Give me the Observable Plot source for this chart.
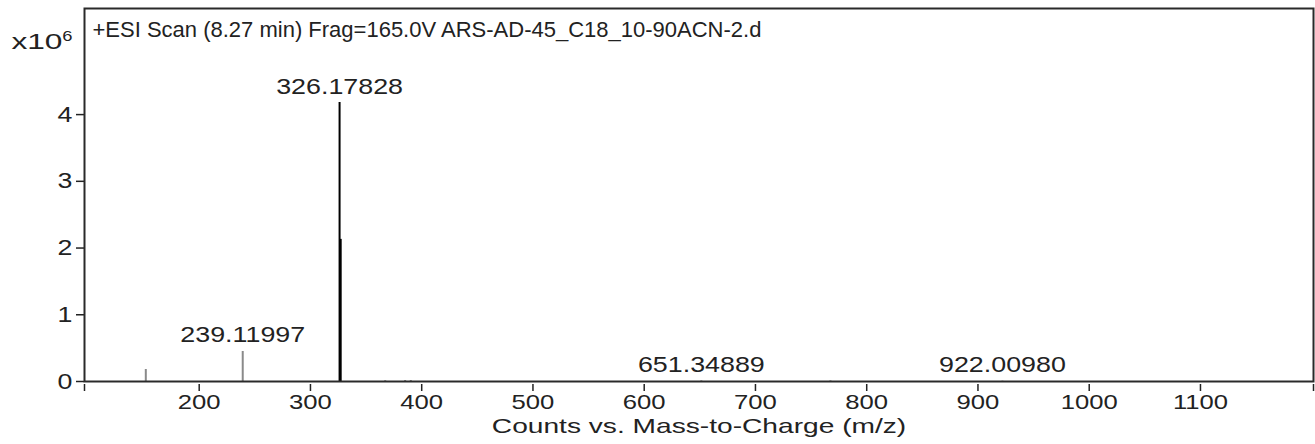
<!DOCTYPE html>
<html>
<head>
<meta charset="utf-8">
<script src="https://cdn.jsdelivr.net/npm/d3@7"></script>
<script src="https://cdn.jsdelivr.net/npm/@observablehq/plot@0.6"></script>
<style>
  html, body { margin: 0; padding: 0; background: #fff; }
  svg { display: block; }
</style>
</head>
<body>
<script>
// Mass spectrum: +ESI scan at 8.27 min
const scanTitle = "+ESI Scan (8.27 min) Frag=165.0V ARS-AD-45_C18_10-90ACN-2.d";
const xTitle = "Counts vs. Mass-to-Charge (m/z)";
const yUnit = "x10";
const yExponent = "6";

// Peak list (m/z) and counts in units of 10^6
const mz     = [152.0, 239.11997, 326.17828, 327.18, 367.2, 385.1, 390.2, 651.34889, 767.4, 922.00980];
const counts = [0.18,  0.45,      4.18,      2.13,   0.012, 0.015, 0.015, 0.010,     0.010, 0.005];

// Annotated peaks
const labelMz = [239.11997, 326.17828, 651.34889, 922.00980];

// Axis ticks
const xTicks = [200, 300, 400, 500, 600, 700, 800, 900, 1000, 1100];
const yTicks = [0, 1, 2, 3, 4];
const xDomain = [96.9, 1201.6];
const yDomain = [0, 5.59];

const peaks = mz.map((m, i) => ({mz: m, counts: counts[i]}));
const labels = labelMz.map(m => peaks.find(p => p.mz === m));
const minor = peaks.filter(p => p.counts < 1);
const major = peaks.filter(p => p.counts >= 1);

const font = "'Liberation Sans', Arial, Helvetica, sans-serif";
const ink = "#222";

const chart = Plot.plot({
  width: 1315,
  height: 444,
  marginLeft: 84,
  marginRight: 2,
  marginTop: 8,
  marginBottom: 63,
  style: {fontFamily: font, fontSize: "22px", color: ink, background: "#fff"},
  x: {domain: xDomain, label: null},
  y: {domain: yDomain, label: null},
  marks: [
    Plot.ruleX(minor, {x: "mz", y1: 0, y2: "counts", stroke: "#8a8a8a", strokeWidth: 2}),
    Plot.ruleX(major, {x: "mz", y1: 0, y2: "counts", stroke: "#000", strokeWidth: 2}),
    Plot.text(labels, {
      x: "mz", y: "counts", text: d => d.mz.toFixed(5),
      lineAnchor: "bottom", dy: -9, fill: ink, fontSize: 22
    }),
    Plot.axisX({
      ticks: [xDomain[0], ...xTicks, xDomain[1]],
      tickFormat: d => xTicks.includes(d) ? String(d) : "",
      tickSize: 7, tickPadding: 3, dy: 3, stroke: ink, strokeWidth: 1.5, fontSize: 21
    }),
    Plot.axisY({
      ticks: yTicks, tickFormat: d => String(d),
      tickSize: 8, tickPadding: 4, stroke: ink, strokeWidth: 1.5, fontSize: 22
    }),
    Plot.frame({stroke: "#2a2a2a", strokeWidth: 2}),
    Plot.text([scanTitle], {
      frameAnchor: "top-left", textAnchor: "start", lineAnchor: "top",
      dx: 8, dy: 13, fill: ink, fontSize: 22
    }),
    Plot.text([yUnit], {
      frameAnchor: "top-left", textAnchor: "end", lineAnchor: "top",
      dx: -22, dy: 25, fill: ink, fontSize: 22
    }),
    Plot.text([yExponent], {
      frameAnchor: "top-left", textAnchor: "end", lineAnchor: "top",
      dx: -12, dy: 22, fill: ink, fontSize: 15
    }),
    Plot.text([xTitle], {
      frameAnchor: "bottom", lineAnchor: "top", dy: 37, fill: ink, fontSize: 21
    })
  ]
});

document.body.append(chart);

// Widen the lettering horizontally (glyphs are drawn wide in this layout)
const stretchFor = s => s === scanTitle ? 1.0 : s === xTitle ? 1.34 : s === yUnit ? 1.44 : 1.22;
chart.querySelectorAll("text").forEach(t => {
  const len = t.getComputedTextLength();
  const k = stretchFor(t.textContent);
  if (len > 0 && k !== 1) {
    t.setAttribute("textLength", (len * k).toFixed(1));
    t.setAttribute("lengthAdjust", "spacingAndGlyphs");
  }
});
</script>
</body>
</html>
